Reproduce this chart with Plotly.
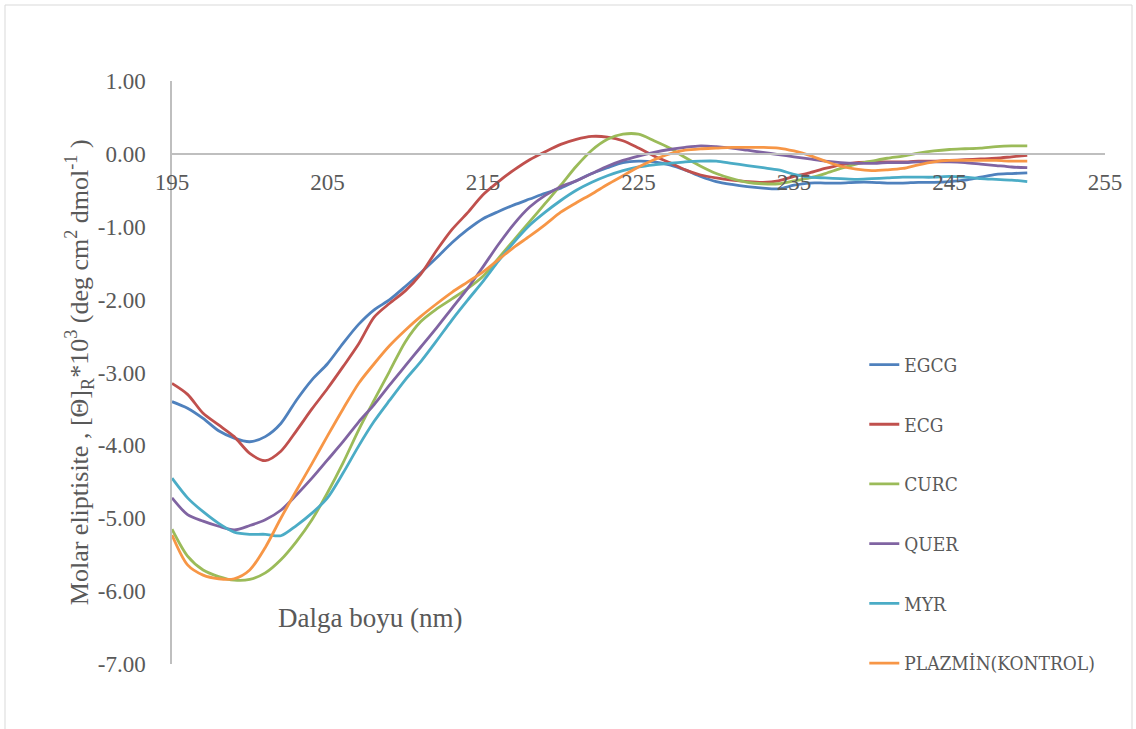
import plotly.graph_objects as go

wavelength = list(range(195, 251))

EGCG = [-3.40, -3.49, -3.63, -3.80, -3.90, -3.95, -3.88, -3.70, -3.38, -3.10,
        -2.88, -2.60, -2.34, -2.14, -2.00, -1.82, -1.63, -1.43, -1.22, -1.04,
        -0.89, -0.79, -0.70, -0.62, -0.54, -0.47, -0.37, -0.27, -0.19, -0.12,
        -0.10, -0.11, -0.15, -0.22, -0.31, -0.38, -0.42, -0.45, -0.47, -0.48,
        -0.43, -0.40, -0.40, -0.40, -0.39, -0.39, -0.40, -0.40, -0.39, -0.39,
        -0.38, -0.36, -0.32, -0.28, -0.27, -0.26]

ECG = [-3.15, -3.30, -3.56, -3.72, -3.88, -4.11, -4.21, -4.08, -3.80, -3.50,
       -3.22, -2.92, -2.61, -2.24, -2.05, -1.88, -1.65, -1.33, -1.04, -0.81,
       -0.56, -0.38, -0.22, -0.08, 0.03, 0.13, 0.20, 0.24, 0.23, 0.18,
       0.08, -0.03, -0.12, -0.22, -0.29, -0.33, -0.36, -0.38, -0.39, -0.37,
       -0.31, -0.26, -0.20, -0.15, -0.12, -0.11, -0.11, -0.11, -0.10, -0.10,
       -0.09, -0.08, -0.07, -0.06, -0.04, -0.02]

CURC = [-5.15, -5.52, -5.71, -5.80, -5.85, -5.84, -5.75, -5.57, -5.32, -5.02,
        -4.65, -4.24, -3.79, -3.38, -2.98, -2.58, -2.30, -2.13, -1.99, -1.85,
        -1.68, -1.43, -1.18, -0.93, -0.68, -0.43, -0.17, 0.05, 0.20, 0.27,
        0.27, 0.18, 0.08, -0.05, -0.17, -0.27, -0.34, -0.39, -0.41, -0.41,
        -0.37, -0.33, -0.27, -0.20, -0.14, -0.10, -0.06, -0.03, 0.01, 0.04,
        0.06, 0.07, 0.08, 0.10, 0.11, 0.11]

QUER = [-4.72, -4.95, -5.04, -5.11, -5.16, -5.10, -5.02, -4.89, -4.68, -4.45,
        -4.20, -3.95, -3.68, -3.44, -3.17, -2.91, -2.65, -2.39, -2.12, -1.85,
        -1.55, -1.24, -0.96, -0.73, -0.57, -0.45, -0.37, -0.27, -0.17, -0.09,
        -0.03, 0.02, 0.06, 0.09, 0.11, 0.10, 0.08, 0.05, 0.02, -0.01,
        -0.04, -0.07, -0.10, -0.12, -0.13, -0.13, -0.12, -0.12, -0.11, -0.11,
        -0.11, -0.12, -0.14, -0.16, -0.18, -0.19]

MYR = [-4.45, -4.72, -4.91, -5.07, -5.19, -5.22, -5.22, -5.24, -5.10, -4.93,
       -4.72, -4.38, -4.01, -3.67, -3.38, -3.10, -2.85, -2.57, -2.28, -2.01,
       -1.75, -1.47, -1.21, -0.98, -0.80, -0.64, -0.50, -0.39, -0.30, -0.23,
       -0.18, -0.15, -0.13, -0.11, -0.10, -0.10, -0.13, -0.16, -0.19, -0.22,
       -0.28, -0.32, -0.33, -0.34, -0.35, -0.34, -0.33, -0.32, -0.32, -0.32,
       -0.31, -0.32, -0.34, -0.35, -0.36, -0.38]

PLAZMIN = [-5.23, -5.64, -5.78, -5.83, -5.83, -5.71, -5.40, -5.00, -4.62, -4.25,
           -3.87, -3.50, -3.15, -2.88, -2.63, -2.42, -2.23, -2.06, -1.90, -1.76,
           -1.62, -1.45, -1.28, -1.13, -0.97, -0.80, -0.67, -0.55, -0.42, -0.30,
           -0.18, -0.08, 0.00, 0.05, 0.07, 0.08, 0.09, 0.09, 0.09, 0.08,
           0.04, -0.02, -0.10, -0.17, -0.21, -0.23, -0.22, -0.20, -0.15, -0.11,
           -0.09, -0.09, -0.09, -0.09, -0.10, -0.10]

series_names = ["EGCG", "ECG", "CURC", "QUER", "MYR", "PLAZMİN(KONTROL)"]
series_values = [EGCG, ECG, CURC, QUER, MYR, PLAZMIN]
series_colors = ["#4F81BD", "#C0504D", "#9BBB59", "#8064A2", "#4BACC6", "#F79646"]

x_ticks = [195, 205, 215, 225, 235, 245, 255]
x_ticktext = ["195", "205", "215", "225", "235", "245", "255"]
y_ticks = [1, 0, -1, -2, -3, -4, -5, -6, -7]
y_ticktext = ["1.00", "0.00", "-1.00", "-2.00", "-3.00", "-4.00", "-5.00", "-6.00", "-7.00"]

x_title = "Dalga boyu (nm)"
y_title = ("Molar eliptisite , [Θ]<sub>R</sub>*10<sup>3</sup> "
           "(deg cm<sup>2</sup> dmol<sup>-1</sup> )")

fig = go.Figure()
for name, vals, col in zip(series_names, series_values, series_colors):
    fig.add_trace(go.Scatter(
        x=wavelength, y=vals, name=name, mode="lines",
        line=dict(color=col, width=2.8, shape="spline", smoothing=0.8),
        legendgroup=name,
    ))

serif = "Liberation Serif, Times New Roman, serif"
grey = "#595959"

fig.update_layout(
    width=1136, height=729,
    margin=dict(l=172, r=31, t=81, b=65),
    plot_bgcolor="white", paper_bgcolor="white",
    font=dict(family=serif, size=23, color=grey),
    xaxis=dict(
        range=[195, 255], tickvals=x_ticks, ticktext=x_ticktext,
        showgrid=False, zeroline=False, showline=True,
        linecolor="#BFBFBF", linewidth=1.5, ticks="",
        anchor="free", position=0.875,
        tickfont=dict(family=serif, size=23, color=grey),
        ticklabelstandoff=8,
    ),
    yaxis=dict(
        range=[-7, 1], tickvals=y_ticks, ticktext=y_ticktext,
        showgrid=False, zeroline=False, showline=True,
        linecolor="#BFBFBF", linewidth=1.5, ticks="",
        tickfont=dict(family=serif, size=23, color=grey),
        ticklabelstandoff=20,
    ),
    legend=dict(
        x=0.742, y=0.546, xanchor="left", yanchor="top",
        font=dict(family="DejaVu Serif Condensed, DejaVu Serif, serif", size=19, color=grey),
        tracegroupgap=32, traceorder="grouped",
        bgcolor="rgba(0,0,0,0)",
    ),
    annotations=[
        dict(text=y_title, xref="paper", yref="paper", x=-0.1, y=0.5,
             xanchor="center", yanchor="middle", textangle=-90, showarrow=False,
             font=dict(family=serif, size=26, color=grey)),
        dict(text=x_title, xref="paper", yref="paper", x=0.2122, y=0.0789,
             xanchor="center", yanchor="middle", showarrow=False,
             font=dict(family=serif, size=27, color=grey)),
    ],
    shapes=[
        dict(type="rect", xref="paper", yref="paper",
             x0=(5 - 172) / 933, x1=(1132 - 172) / 933,
             y0=(664 - 740) / 583, y1=(664 - 5) / 583,
             line=dict(color="#D9D9D9", width=1), fillcolor="rgba(0,0,0,0)"),
    ],
)

fig.write_html("out.html")
